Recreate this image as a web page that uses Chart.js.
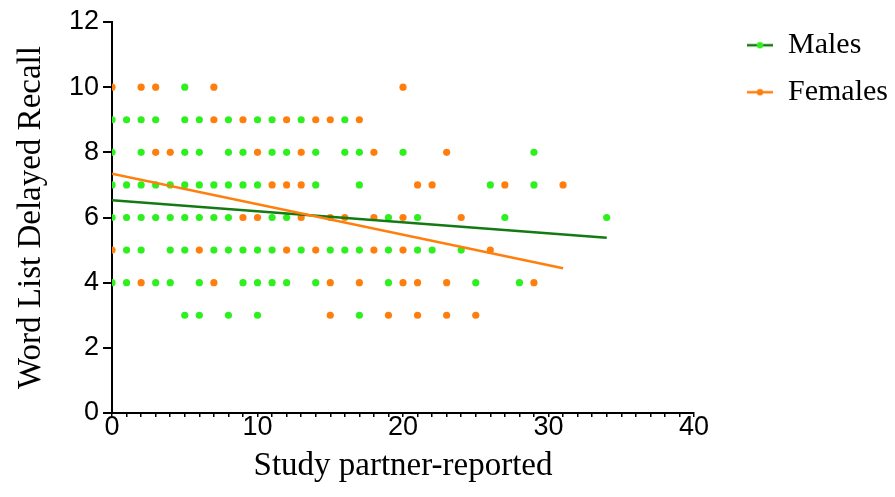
<!DOCTYPE html>
<html>
<head>
<meta charset="utf-8">
<script src="https://cdn.jsdelivr.net/npm/chart.js@4"></script>
<style>
  html, body { margin: 0; padding: 0; background: #fff; }
  #wrap { width: 895px; height: 497px; position: relative; }
</style>
</head>
<body>
<div id="wrap"><canvas id="chart"></canvas></div>
<script>
"use strict";

// recall score for each row of dots, and the x values found on that row
const recallLevels = [10, 9, 8, 7, 6, 5, 4, 3];
const maleReported = [
    [5],
    [0, 1, 2, 3, 5, 6, 8, 10, 11, 13, 16],
    [0, 2, 5, 6, 8, 9, 11, 12, 14, 16, 17, 20, 29],
    [0, 1, 2, 3, 4, 5, 6, 7, 8, 9, 10, 14, 17, 26, 29],
    [0, 1, 2, 3, 4, 5, 6, 7, 8, 11, 12, 19, 21, 27, 34],
    [1, 2, 4, 5, 7, 8, 9, 10, 11, 13, 15, 16, 17, 19, 21, 22, 24],
    [0, 1, 3, 4, 6, 9, 10, 11, 12, 14, 19, 25, 28],
    [5, 6, 8, 10, 17]
];
const femaleReported = [
    [0, 2, 3, 7, 20],
    [7, 9, 12, 14, 15, 17],
    [3, 4, 10, 13, 18, 23],
    [11, 12, 13, 21, 22, 27, 31],
    [9, 10, 13, 15, 16, 18, 20, 24],
    [0, 6, 12, 14, 18, 20, 26],
    [2, 7, 15, 17, 20, 21, 23, 29],
    [15, 19, 21, 23, 25]
];

// regression lines (end points)
const maleFitX = [0, 34];
const maleFitY = [6.53, 5.38];
const femaleFitX = [0, 31];
const femaleFitY = [7.34, 4.44];

const xTicksMajor = 10;

const GREEN = '#2ef01f';
const DARK_GREEN = '#137a13';
const ORANGE = '#ff7f0e';
const SERIF = '"Liberation Serif", "Times New Roman", serif';
const SANS = '"Liberation Sans", Arial, sans-serif';

const toPoints = (rows) => rows.flatMap((xs, i) => xs.map(x => ({x: x, y: recallLevels[i]})));
const toLine = (xs, ys) => xs.map((x, i) => ({x: x, y: ys[i]}));

// line-with-dot marker for the legend, blank on the left so it sits further right
const KEY_W = 62;
function legendKey(lineColor, dotColor) {
    const c = document.createElement('canvas');
    c.width = KEY_W;
    c.height = 8;
    const g = c.getContext('2d');
    g.strokeStyle = lineColor;
    g.lineWidth = 2.5;
    g.beginPath();
    g.moveTo(KEY_W - 26, 4);
    g.lineTo(KEY_W, 4);
    g.stroke();
    g.fillStyle = dotColor;
    g.beginPath();
    g.arc(KEY_W - 13, 4, 3.2, 0, Math.PI * 2);
    g.fill();
    return c;
}

const canvas = document.getElementById('chart');

new Chart(canvas, {
    type: 'scatter',
    data: {
        datasets: [
            {
                label: 'Females fit',
                data: toLine(femaleFitX, femaleFitY),
                showLine: true,
                borderColor: ORANGE,
                borderWidth: 2.5,
                pointRadius: 0,
                order: 1
            },
            {
                label: 'Males fit',
                data: toLine(maleFitX, maleFitY),
                showLine: true,
                borderColor: DARK_GREEN,
                borderWidth: 2.5,
                pointRadius: 0,
                order: 2
            },
            {
                label: 'Females',
                data: toPoints(femaleReported),
                backgroundColor: ORANGE,
                borderWidth: 0,
                pointRadius: 3.6,
                order: 3
            },
            {
                label: 'Males',
                data: toPoints(maleReported),
                backgroundColor: GREEN,
                borderWidth: 0,
                pointRadius: 3.6,
                order: 4
            }
        ]
    },
    options: {
        responsive: true,
        maintainAspectRatio: false,
        animation: false,
        layout: { padding: 0 },
        plugins: {
            tooltip: { enabled: false },
            legend: {
                position: 'right',
                align: 'start',
                maxWidth: 201,
                title: { display: true, text: ' ', padding: 0, font: { size: 11 } },
                labels: {
                    usePointStyle: true,
                    pointStyleWidth: KEY_W,
                    padding: 17,
                    color: '#000',
                    font: { family: SERIF, size: 30 },
                    generateLabels: () => [
                        { text: 'Males', pointStyle: legendKey(DARK_GREEN, GREEN), fillStyle: GREEN,
                          strokeStyle: 'rgba(0,0,0,0)', lineWidth: 0, hidden: false, datasetIndex: 3, fontColor: '#000' },
                        { text: 'Females', pointStyle: legendKey(ORANGE, ORANGE), fillStyle: ORANGE,
                          strokeStyle: 'rgba(0,0,0,0)', lineWidth: 0, hidden: false, datasetIndex: 2, fontColor: '#000' }
                    ]
                }
            }
        },
        scales: {
            x: {
                type: 'linear',
                min: 0,
                max: 40,
                ticks: {
                    stepSize: 1,
                    autoSkip: false,
                    maxRotation: 0,
                    color: '#000',
                    padding: -3,
                    font: { family: SANS, size: 27, lineHeight: 1 },
                    callback: (v) => v % xTicksMajor === 0 ? v : ''
                },
                grid: { drawOnChartArea: false, drawTicks: true, tickLength: 4, color: '#000', lineWidth: 1.5 },
                border: { display: true, color: '#000', width: 2 },
                title: {
                    display: true,
                    text: 'Study partner-reported',
                    color: '#000',
                    font: { family: SERIF, size: 33, lineHeight: 1 },
                    padding: { top: 12, bottom: 14 }
                }
            },
            y: {
                min: 0,
                max: 12,
                afterFit: (s) => { s.paddingTop = 22; },
                ticks: {
                    stepSize: 2,
                    color: '#000',
                    padding: 4,
                    font: { family: SANS, size: 27, lineHeight: 1 }
                },
                grid: { drawOnChartArea: false, drawTicks: true, tickLength: 9, color: '#000', lineWidth: 2 },
                border: { display: true, color: '#000', width: 2 },
                title: {
                    display: true,
                    text: 'Word List Delayed Recall',
                    color: '#000',
                    font: { family: SERIF, size: 33, lineHeight: 1 },
                    padding: { top: 15, bottom: 17 }
                }
            }
        }
    }
});
</script>
</body>
</html>
